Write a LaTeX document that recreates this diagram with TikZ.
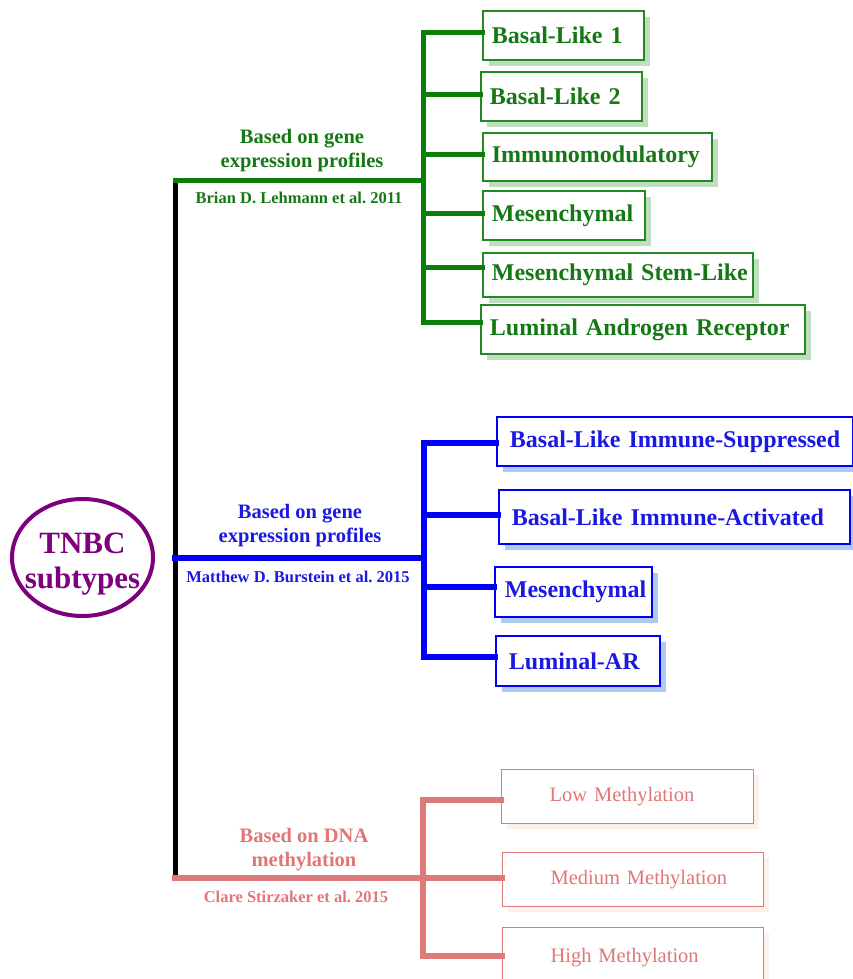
\documentclass[tikz,border=0pt]{standalone}
\usepackage{fontspec}
\setmainfont{Liberation Serif}
\frenchspacing
\usetikzlibrary{shapes.geometric,shadows}
\definecolor{gline}{RGB}{10,125,10}
\definecolor{gtext}{RGB}{20,120,20}
\definecolor{gshadow}{RGB}{190,222,190}
\definecolor{bline}{RGB}{0,0,250}
\definecolor{btext}{RGB}{25,25,225}
\definecolor{bshadow}{RGB}{175,202,240}
\definecolor{pline}{RGB}{222,122,122}
\definecolor{ptext}{RGB}{226,118,118}
\definecolor{pshadow}{RGB}{252,240,232}
\definecolor{purp}{RGB}{125,0,125}
\begin{document}
\begin{tikzpicture}[x=1pt,y=-1pt,
  trunk/.style={line width=5pt,black,line cap=rect},
  gl/.style={line width=5pt,gline,line cap=rect},
  bl/.style={line width=6pt,bline,line cap=rect},
  pl/.style={line width=6pt,pline,line cap=rect},
  boxbase/.style={draw,rectangle,anchor=north west,inner ysep=0pt,align=left,line width=1.8pt},
  gbox/.style={boxbase,draw=gline!90!white,text=gtext,fill=white,inner xsep=9pt,
    font=\fontsize{24}{27}\selectfont\bfseries,
    drop shadow={shadow xshift=6pt,shadow yshift=-6pt,fill=gshadow,opacity=1}},
  bbox/.style={boxbase,draw=bline,text=btext,fill=white,inner xsep=13pt,
    font=\fontsize{24}{27}\selectfont\bfseries,
    drop shadow={shadow xshift=6pt,shadow yshift=-6pt,fill=bshadow,opacity=1}},
  pbox/.style={boxbase,draw=pline,text=ptext,fill=white,inner xsep=48pt,line width=1.3pt,
    font=\fontsize{20.5}{24}\selectfont,
    drop shadow={shadow xshift=5pt,shadow yshift=-5pt,fill=pshadow,opacity=1}},
  seclabel/.style={align=center,font=\fontsize{20.5}{24}\selectfont\bfseries},
  cite/.style={font=\fontsize{16.5}{19}\selectfont\bfseries}
]
\useasboundingbox (0,0) rectangle (853,979);

% root
\node[ellipse,draw=purp,line width=4pt,minimum width=141pt,minimum height=117pt,inner sep=0pt] (root) at (82.5,557.5) {};
\node[text=purp,align=center,font=\fontsize{31}{35}\selectfont\bfseries] (roottext) at (82.5,564) {TNBC\\subtypes};

% hub coordinates
\coordinate (k0) at (175,180);
\coordinate (k1) at (175,558);
\coordinate (k2) at (175,878);
\coordinate (gh) at (423,180);
\coordinate (gj1) at (423,33);
\coordinate (gj2) at (423,95);
\coordinate (gj3) at (423,154);
\coordinate (gj4) at (423,213);
\coordinate (gj5) at (423,267);
\coordinate (gj6) at (423,322);
\coordinate (bh) at (424,558);
\coordinate (bj1) at (424,443);
\coordinate (bj2) at (424,515);
\coordinate (bj3) at (424,587);
\coordinate (bj4) at (424,657);
\coordinate (ph) at (423,878);
\coordinate (pj1) at (423,800);
\coordinate (pj3) at (423,956);

% green boxes
\node[gbox,minimum height=49pt,text width=143pt] (g1) at (482,10) {\mbox{Basal-Like 1}};
\node[gbox,minimum height=49pt,text width=143pt] (g2) at (480,71) {\mbox{Basal-Like 2}};
\node[gbox,minimum height=48pt,text width=211pt] (g3) at (482,132) {\mbox{Immunomodulatory}};
\node[gbox,minimum height=49pt,text width=144pt] (g4) at (482,190) {\mbox{Mesenchymal}};
\node[gbox,minimum height=44pt,text width=252pt] (g5) at (482,252) {\mbox{Mesenchymal Stem-Like}};
\node[gbox,minimum height=49pt,text width=306pt] (g6) at (480,304) {\mbox{Luminal Androgen Receptor}};

% blue boxes
\node[bbox,minimum height=49pt,text width=330pt] (b1) at (496,416) {\mbox{Basal-Like Immune-Suppressed}};
\node[bbox,minimum height=54pt,text width=325pt] (b2) at (498,489) {\mbox{Basal-Like Immune-Activated}};
\node[bbox,minimum height=50pt,text width=137pt,inner xsep=10pt] (b3) at (494,566) {\mbox{Mesenchymal}};
\node[bbox,minimum height=50pt,text width=138pt] (b4) at (495,635) {\mbox{Luminal-AR}};

% pink boxes
\node[pbox,minimum height=54pt,text width=156pt] (p1) at (501,769) {\mbox{Low Methylation}};
\node[pbox,minimum height=54pt,text width=165pt] (p2) at (502,852) {\mbox{Medium Methylation}};
\node[pbox,minimum height=60pt,text width=165pt] (p3) at (502,927) {\mbox{High Methylation}};

% trunk and branches
\draw[trunk] (k0) -- (k2);
\draw[gl] (k0) -- (gh);
\draw[gl] (gj1) -- (gj6);
\foreach \i in {1,...,6} \draw[gl] (gj\i) -- (gj\i -| g\i.west);
\draw[bl] (k1) -- (bh);
\draw[bl] (bj1) -- (bj4);
\foreach \i in {1,...,4} \draw[bl] (bj\i) -- (bj\i -| b\i.west);
\draw[pl] (k2) -- (ph);
\draw[pl] (pj1) -- (pj3);
\draw[pl] (pj1) -- (pj1 -| p1.west);
\draw[pl] (ph) -- (ph -| p2.west);
\draw[pl] (pj3) -- (pj3 -| p3.west);

% section labels
\node[seclabel,text=gtext] (gl1) at (302,151) {Based on gene\\expression profiles};
\node[cite,text=gtext] (gc) at (299,198) {Brian D. Lehmann et al. 2011};
\node[seclabel,text=btext] (bl1) at (300,526) {Based on gene\\expression profiles};
\node[cite,text=btext] (bc) at (298,577) {Matthew D. Burstein et al. 2015};
\node[seclabel,text=ptext] (pl1) at (304,850) {Based on DNA\\methylation};
\node[cite,text=ptext] (pc) at (296,897) {Clare Stirzaker et al. 2015};
\end{tikzpicture}
\end{document}
